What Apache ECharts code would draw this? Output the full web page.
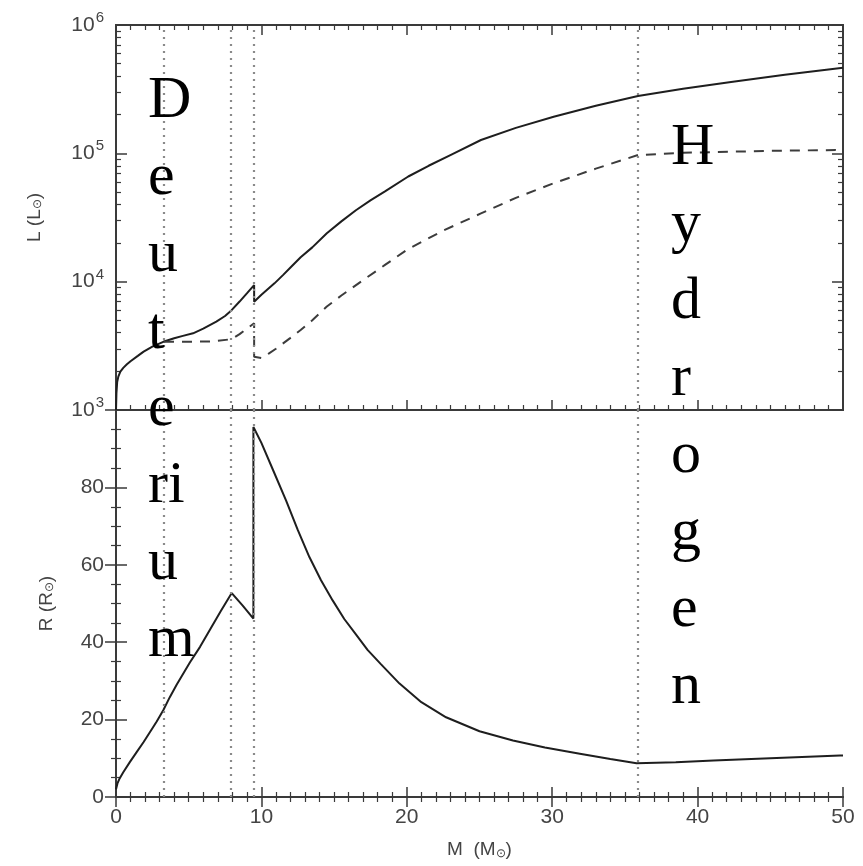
<!DOCTYPE html>
<html><head><meta charset="utf-8">
<script src="https://cdn.jsdelivr.net/npm/echarts@6/dist/echarts.min.js"></script>
<style>html,body{margin:0;padding:0;background:#fff}#c{width:863px;height:866px}</style>
</head><body><div id="c"></div>
<script>
// ---- data ----
const massL = [0, 0.03, 0.08, 0.16, 0.3, 0.5, 0.75, 1.0, 1.5, 1.9, 2.5, 3.25, 4.0, 4.6, 5.3, 6.0, 6.9, 7.5, 7.95, 8.5, 9.0, 9.5, 9.5, 10.0, 10.9, 11.5, 12.0, 12.7, 13.5, 14.5, 15.5, 16.5, 17.5, 18.5, 20.1, 21.5, 23.0, 25.1, 27.5, 30.1, 33.0, 35.9, 39.0, 42.3, 46.0, 50.0];
const lumTotal = [1000, 1350, 1650, 1820, 1990, 2130, 2270, 2400, 2640, 2850, 3120, 3400, 3620, 3780, 3960, 4300, 4880, 5400, 6000, 7000, 8100, 9400, 6980, 7900, 9700, 11300, 12900, 15500, 18500, 23800, 29500, 36000, 43000, 50500, 66000, 80000, 97000, 127000, 158000, 193000, 235000, 280000, 318000, 360000, 410000, 465000];
const massLd = [3.3, 5.0, 6.5, 7.95, 8.5, 9.0, 9.5, 9.5, 10.0, 10.5, 11.0, 12.0, 12.7, 13.5, 14.5, 15.5, 17.0, 18.5, 20.0, 22.5, 25.1, 27.5, 30.1, 33.0, 35.9, 39.0, 42.3, 46.0, 49.5, 50.0];
const lumAccretion = [3400, 3400, 3420, 3560, 3900, 4300, 4740, 2600, 2540, 2750, 3000, 3650, 4200, 5000, 6400, 7800, 10300, 13500, 17700, 25000, 34000, 45000, 58500, 76000, 97000, 101000, 103000, 105000, 106000, 104000];
const massR = [0, 0.1, 0.25, 0.5, 0.95, 1.42, 1.9, 2.34, 2.8, 3.25, 3.7, 4.17, 5.09, 5.78, 6.5, 7.2, 7.96, 8.7, 9.45, 9.45, 10.0, 10.8, 11.7, 12.5, 13.3, 14.1, 14.9, 15.7, 16.5, 17.3, 18.2, 19.5, 21.0, 22.7, 25.0, 27.3, 29.5, 31.9, 34.0, 35.8, 38.5, 41.1, 45.0, 49.8, 50.0];
const radius = [2.0, 3.5, 4.8, 6.4, 9.0, 11.6, 14.2, 16.8, 19.5, 22.4, 25.8, 29.0, 34.8, 38.8, 43.5, 48.0, 52.7, 49.5, 46.1, 95.6, 91.5, 84.5, 76.6, 69.0, 62.0, 56.0, 50.8, 46.0, 42.0, 38.0, 34.4, 29.3, 24.5, 20.6, 17.0, 14.6, 12.8, 11.2, 9.8, 8.7, 9.0, 9.4, 10.0, 10.7, 10.7];
const burningMasses = [3.3, 7.9, 9.5, 35.9];
const logMajor = [1e3, 1e4, 1e5, 1e6];
const logMinor = [2e3,3e3,4e3,5e3,6e3,7e3,8e3,9e3,2e4,3e4,4e4,5e4,6e4,7e4,8e4,9e4,2e5,3e5,4e5,5e5,6e5,7e5,8e5,9e5];
const rLabels = [0, 20, 40, 60, 80];
const deuteriumText = ['D','e','u','t','e','ri','u','m'];
const hydrogenText = ['H','y','d','r','o','g','e','n'];

const zip = (a, b) => a.map((v, i) => [v, b[i]]);
const AX = '#3a3a3a';
const LBL = '#444';
const FONT = '"Liberation Sans", Arial, sans-serif';

const chart = echarts.init(document.getElementById('c'), null, {renderer: 'canvas'});

const lineAx = {show: true, lineStyle: {color: AX, width: 2}};
function xAxisCfg(grid, pos, labels) {
  return {
    type: 'value', gridIndex: grid, position: pos, min: 0, max: 50, interval: 10,
    axisLine: lineAx,
    axisTick: {show: true, inside: true, length: 10, lineStyle: {color: AX, width: 1.5}},
    minorTick: {show: true, splitNumber: 10, length: 5, lineStyle: {color: AX, width: 1.2}},
    splitLine: {show: false},
    axisLabel: {show: labels, color: LBL, fontFamily: FONT, fontSize: 21, margin: 10},
    name: labels ? 'M  (M{s|⊙})' : '', nameLocation: 'middle', nameGap: 42,
    nameTextStyle: {color: LBL, fontFamily: FONT, fontSize: 19, rich: {s: {fontSize: 12, verticalAlign: 'bottom', padding: [9,0,0,0], color: LBL}}}
  };
}
function logAxisCfg(pos, major, labels) {
  return {
    type: 'log', gridIndex: 0, position: pos, min: 1e3, max: 1e6, logBase: 10,
    axisLine: lineAx,
    axisTick: {show: true, inside: true, length: major ? 11 : 5, customValues: major ? logMajor : logMinor, lineStyle: {color: AX, width: major ? 1.5 : 1.2}},
    splitLine: {show: false}, minorTick: {show: false},
    axisLabel: labels ? {
      show: true, customValues: logMajor, margin: 12, color: LBL, fontFamily: FONT,
      formatter: v => '{b|10}{s|' + Math.round(Math.log10(v)) + '}',
      rich: {b: {fontSize: 21, color: LBL, fontFamily: FONT}, s: {fontSize: 15, color: LBL, fontFamily: FONT, verticalAlign: 'top', padding: [0,0,14,1]}}
    } : {show: false},
    name: labels ? 'L (L{s|⊙})' : '', nameLocation: 'middle', nameGap: 72, nameRotate: 90,
    nameTextStyle: {color: LBL, fontFamily: FONT, fontSize: 19, rich: {s: {fontSize: 12, color: LBL, padding: [7,0,0,0]}}}
  };
}
function rAxisCfg(pos, labels) {
  return {
    type: 'value', gridIndex: 1, position: pos, min: 0, max: 100, interval: 20,
    axisLine: lineAx,
    axisTick: {show: true, inside: true, length: 11, lineStyle: {color: AX, width: 1.5}},
    minorTick: {show: true, splitNumber: 4, length: 5, lineStyle: {color: AX, width: 1.2}},
    splitLine: {show: false},
    axisLabel: {show: labels, margin: 12, color: LBL, fontFamily: FONT, fontSize: 21,
      formatter: v => rLabels.indexOf(v) >= 0 ? String(v) : ''},
    name: labels ? 'R (R{s|⊙})' : '', nameLocation: 'middle', nameGap: 60, nameRotate: 90,
    nameTextStyle: {color: LBL, fontFamily: FONT, fontSize: 19, rich: {s: {fontSize: 12, color: LBL, padding: [7,0,0,0]}}}
  };
}
const vLines = () => ({
  silent: true, symbol: 'none', label: {show: false},
  lineStyle: {type: [2, 5], color: '#8a8a8a', width: 2.2},
  data: burningMasses.map(m => ({xAxis: m}))
});

chart.setOption({
  animation: false,
  backgroundColor: '#fff',
  grid: [
    {left: 116, right: 20, top: 25, height: 385},
    {left: 116, right: 20, top: 410, bottom: 69}
  ],
  xAxis: [xAxisCfg(0, 'bottom', false), xAxisCfg(1, 'bottom', true), xAxisCfg(0, 'top', false), xAxisCfg(1, 'top', false)],
  yAxis: [logAxisCfg('left', true, true), logAxisCfg('left', false, false), logAxisCfg('right', true, false), logAxisCfg('right', false, false), rAxisCfg('left', true), rAxisCfg('right', false)],
  series: [
    {type: 'line', xAxisIndex: 0, yAxisIndex: 0, data: zip(massL, lumTotal), showSymbol: false,
      lineStyle: {color: '#1e1e1e', width: 2}, markLine: vLines(), z: 3},
    {type: 'line', xAxisIndex: 0, yAxisIndex: 0, data: zip(massLd, lumAccretion), showSymbol: false,
      lineStyle: {color: '#3c3c3c', width: 2, type: [10, 8]}, z: 3},
    {type: 'line', xAxisIndex: 1, yAxisIndex: 4, data: zip(massR, radius), showSymbol: false,
      lineStyle: {color: '#1e1e1e', width: 2}, markLine: vLines(), z: 3}
  ],
  graphic: [
    {type: 'text', left: 148, top: 63, z: 100, style: {text: deuteriumText.join('\n'), font: '60px "Liberation Serif", "Times New Roman", serif', lineHeight: 77, fill: '#000'}},
    {type: 'text', left: 671, top: 110, z: 100, style: {text: hydrogenText.join('\n'), font: '60px "Liberation Serif", "Times New Roman", serif', lineHeight: 77, fill: '#000'}}
  ]
});
</script></body></html>
